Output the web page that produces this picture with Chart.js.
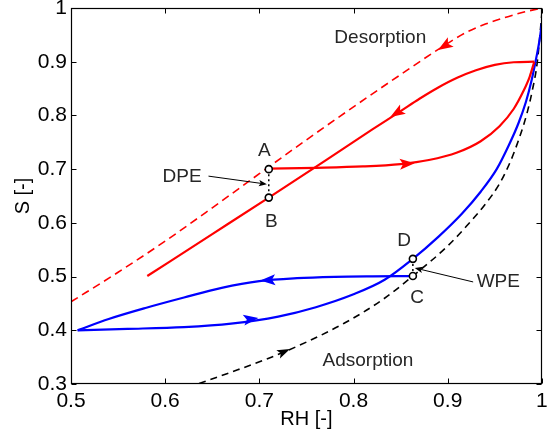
<!DOCTYPE html>
<html><head><meta charset="utf-8">
<script src="https://cdn.jsdelivr.net/npm/chart.js@4"></script>
<style>html,body{margin:0;padding:0;background:#fff}#wrap{width:547px;height:438px;position:relative}</style>
</head><body><div id="wrap"><canvas id="c"></canvas></div>
<script>
// ---- tick values / labels ----
const xTicks=[0.5,0.6,0.7,0.8,0.9,1.0];
const xTickLabels=['0.5','0.6','0.7','0.8','0.9','1'];
const yTicks=[0.3,0.4,0.5,0.6,0.7,0.8,0.9,1.0];
const yTickLabels=['0.3','0.4','0.5','0.6','0.7','0.8','0.9','1'];

// ---- main desorption curve (red dashed) ----
const desRH=[0.50,0.55,0.60,0.65,0.70,0.75,0.80,0.85,0.89,0.92,0.94,0.96,0.98,1.00];
const desS =[0.453,0.508,0.566,0.628,0.6915,0.7545,0.816,0.876,0.923,0.955,0.970,0.982,0.992,1.000];

// ---- desorption scanning curve (red solid, from top corner down-left) ----
const scanDesRH=[0.9919,0.97,0.95,0.93,0.91,0.89,0.87,0.85,0.82,0.77,0.71,0.65,0.581];
const scanDesS =[0.900,0.899,0.894,0.884,0.870,0.852,0.831,0.808,0.774,0.716,0.647,0.579,0.501];

// ---- adsorption scanning curve from A (red solid) ----
const scanAdsRH=[0.71,0.76,0.81,0.85,0.88,0.91,0.935,0.955,0.97,0.98,0.987,0.9919];
const scanAdsS =[0.701,0.7025,0.705,0.7095,0.717,0.731,0.752,0.780,0.812,0.844,0.872,0.900];

// ---- desorption scanning curve from C (blue solid) ----
const blueDesRH=[0.863,0.82,0.78,0.74,0.70,0.66,0.62,0.58,0.54,0.507];
const blueDesS =[0.501,0.5005,0.4995,0.497,0.4915,0.479,0.461,0.442,0.421,0.400];

// ---- adsorption scanning curve (blue solid) ----
const blueAdsRH=[0.507,0.56,0.62,0.67,0.72,0.76,0.80,0.833,0.863,0.89,0.915,0.935,0.952,0.965,0.975,0.983,0.989,0.994,0.9975,1.0];
const blueAdsS =[0.400,0.4025,0.406,0.4125,0.4255,0.443,0.467,0.494,0.533,0.574,0.617,0.658,0.700,0.745,0.785,0.825,0.865,0.907,0.940,0.972];

// ---- main adsorption curve (black dashed) ----
const adsRH=[0.636,0.67,0.71,0.75,0.79,0.83,0.863,0.90,0.92,0.94,0.955,0.967,0.976,0.984,0.99,0.995,1.0];
const adsS =[0.301,0.322,0.348,0.378,0.413,0.456,0.501,0.557,0.594,0.635,0.673,0.716,0.758,0.803,0.848,0.898,0.990];

// ---- marked points A, B, C, D ----
const markRH=[0.71,0.71,0.863,0.863];
const markS =[0.700,0.647,0.501,0.533];

// ---- direction arrows on curves: tip point and a preceding point on the curve ----
const arrowTipRH =[0.8897,0.839,0.865,0.701,0.699,0.7326];
const arrowTipS  =[0.922,0.797,0.711,0.4927,0.423,0.365];
const arrowFromRH=[0.92,0.87,0.81,0.75,0.65,0.70];
const arrowFromS =[0.955,0.831,0.705,0.4975,0.410,0.340];
const arrowColors=['#ff0000','#ff0000','#ff0000','#0000ff','#0000ff','#000000'];

// ---- text annotations ----
const noteText=['A','B','C','D','DPE','WPE','Desorption','Adsorption'];
const noteRH=[0.7053,0.7126,0.8674,0.8537,0.6179,0.9537,0.8284,0.8153];
const noteS =[0.7339,0.6017,0.4601,0.5663,0.6855,0.490,0.9443,0.3428];

// ---- pointer arrows for DPE / WPE ----
const pointerFromRH=[0.646,0.927];
const pointerFromS =[0.687,0.490];
const pointerToRH  =[0.708,0.865];
const pointerToS   =[0.672,0.516];

const FONT='"Liberation Sans", Arial, Helvetica, sans-serif';
const pts=(xs,ys)=>xs.map((x,i)=>({x:x,y:ys[i]}));
const curve=(label,xs,ys,color,width,dash)=>({label,data:pts(xs,ys),borderColor:color,backgroundColor:color,
  borderWidth:width,borderDash:dash||[],pointRadius:0,pointHoverRadius:0,showLine:true,fill:false,
  cubicInterpolationMode:'monotone',order:3});

function drawHead(ctx,tx,ty,ang,L,W,color){
  ctx.save();ctx.translate(tx,ty);ctx.rotate(ang);
  ctx.beginPath();ctx.moveTo(0,0);ctx.lineTo(-L,-W);ctx.lineTo(-L*0.78,0);ctx.lineTo(-L,W);ctx.closePath();
  ctx.fillStyle=color;ctx.fill();ctx.restore();
}

const deco={id:'deco',
  afterDatasetsDraw(chart){
    const {ctx,scales:{x,y}}=chart;
    const px=v=>x.getPixelForValue(v), py=v=>y.getPixelForValue(v);
    ctx.save();
    arrowTipRH.forEach((rh,i)=>{
      const tx=px(rh),ty=py(arrowTipS[i]),fx=px(arrowFromRH[i]),fy=py(arrowFromS[i]);
      const big=arrowColors[i]!=='#000000';
      drawHead(ctx,tx,ty,Math.atan2(ty-fy,tx-fx),big?15:13,big?5.5:4.5,arrowColors[i]);
    });
    ctx.strokeStyle='#000';ctx.lineWidth=1;
    pointerFromRH.forEach((rh,i)=>{
      const fx=px(rh),fy=py(pointerFromS[i]),tx=px(pointerToRH[i]),ty=py(pointerToS[i]);
      const ang=Math.atan2(ty-fy,tx-fx);
      ctx.beginPath();ctx.moveTo(fx,fy);ctx.lineTo(tx-6*Math.cos(ang),ty-6*Math.sin(ang));ctx.stroke();
      drawHead(ctx,tx,ty,ang,8,3.2,'#000');
    });
    ctx.fillStyle='#262626';ctx.font='19px '+FONT;ctx.textAlign='center';ctx.textBaseline='middle';
    noteText.forEach((t,i)=>ctx.fillText(t,px(noteRH[i]),py(noteS[i])));
    ctx.restore();
  },
  afterDraw(chart){
    const {ctx,chartArea:a,scales:{x,y}}=chart;
    ctx.save();
    ctx.strokeStyle='#000';ctx.lineWidth=1.2;
    const L=Math.round(a.left)+0.5,R=Math.round(a.right)-0.5,T=Math.round(a.top)+0.5,B=Math.round(a.bottom)-0.5;
    ctx.strokeRect(L,T,R-L,B-T);
    ctx.lineWidth=1;
    ctx.beginPath();
    xTicks.forEach(v=>{const p=Math.round(x.getPixelForValue(v))+0.5;ctx.moveTo(p,B);ctx.lineTo(p,B-5);ctx.moveTo(p,T);ctx.lineTo(p,T+5);});
    yTicks.forEach(v=>{const p=Math.round(y.getPixelForValue(v))+0.5;ctx.moveTo(L,p);ctx.lineTo(L+5,p);ctx.moveTo(R,p);ctx.lineTo(R-5,p);});
    ctx.stroke();
    ctx.restore();
  }
};

new Chart(document.getElementById('c'),{
  type:'scatter',
  data:{datasets:[
    {label:'points',data:pts(markRH,markS),pointRadius:3.5,pointHoverRadius:3.5,pointBorderWidth:1.6,
      pointBackgroundColor:'#fff',pointBorderColor:'#000',showLine:false,order:0},
    {label:'AB',data:pts([markRH[0],markRH[1]],[markS[0],markS[1]]),borderColor:'#000',borderWidth:1.5,borderDash:[2,3],pointRadius:0,showLine:true,order:1},
    {label:'CD',data:pts([markRH[2],markRH[3]],[markS[2],markS[3]]),borderColor:'#000',borderWidth:1.5,borderDash:[2,3],pointRadius:0,showLine:true,order:1},
    curve('desorption',desRH,desS,'#ff0000',1.6,[8,5]),
    curve('scanDes',scanDesRH,scanDesS,'#ff0000',2.2),
    curve('scanAds',scanAdsRH,scanAdsS,'#ff0000',2.2),
    curve('blueDes',blueDesRH,blueDesS,'#0000ff',2.2),
    curve('blueAds',blueAdsRH,blueAdsS,'#0000ff',2.2),
    curve('adsorption',adsRH,adsS,'#000000',1.6,[7,5])
  ]},
  options:{
    responsive:true,maintainAspectRatio:false,animation:false,
    layout:{padding:{top:8,right:1,bottom:0,left:0}},
    plugins:{legend:{display:false},tooltip:{enabled:false}},
    scales:{
      x:{type:'linear',min:0.5,max:1,
        afterBuildTicks:s=>{s.ticks=xTicks.map(v=>({value:v}));},
        afterFit:s=>{s.height=54;s.paddingLeft=0;s.paddingRight=0;},
        grid:{display:false,drawTicks:false},border:{display:false},
        ticks:{padding:5,autoSkip:false,maxRotation:0,color:'#000',font:{family:FONT,size:21},callback:(v,i)=>xTickLabels[i]},
        title:{display:true,text:'RH [-]',color:'#000',font:{family:FONT,size:20},padding:{top:0,bottom:7}}},
      y:{type:'linear',min:0.3,max:1,
        afterBuildTicks:s=>{s.ticks=yTicks.map(v=>({value:v}));},
        afterFit:s=>{s.width=71;s.paddingTop=0;s.paddingBottom=0;},
        grid:{display:false,drawTicks:false},border:{display:false},
        ticks:{padding:4,autoSkip:false,color:'#000',font:{family:FONT,size:21},callback:(v,i)=>yTickLabels[i]},
        title:{display:true,text:'S [-]',color:'#000',font:{family:FONT,size:20},padding:{top:11,bottom:0}}}
    }
  },
  plugins:[deco]
});
</script></body></html>
